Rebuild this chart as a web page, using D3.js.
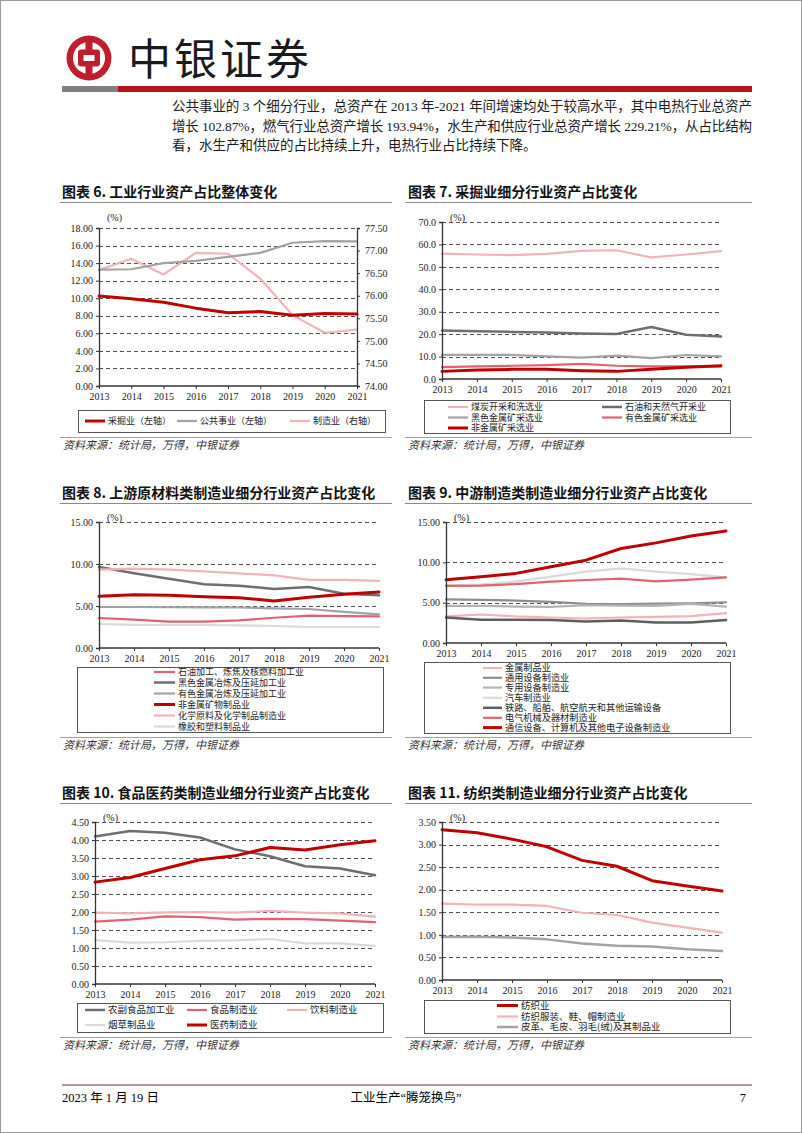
<!DOCTYPE html>
<html><head><meta charset="utf-8">
<script src="https://cdn.jsdelivr.net/npm/d3@7"></script>
<style>
body{margin:0;background:#fff;}
svg{display:block;}
</style></head>
<body>
<script>
// ===== DATA =====
const years = ["2013","2014","2015","2016","2017","2018","2019","2020","2021"];

// Chart 6
const c6_names = ["采掘业（左轴）","公共事业（左轴）","制造业（右轴）"];
const c6_mining = [10.25,9.95,9.55,8.87,8.35,8.48,8.07,8.25,8.2];
const c6_utility = [13.25,13.3,14.0,14.25,14.72,15.17,16.32,16.5,16.48];
const c6_manuf = [76.57,76.82,76.47,76.95,76.93,76.38,75.57,75.18,75.25];
const c6_yTicks = [0,2,4,6,8,10,12,14,16,18];
const c6_y2Ticks = [74,74.5,75,75.5,76,76.5,77,77.5];

// Chart 7
const c7_names = ["煤炭开采和洗选业","石油和天然气开采业","黑色金属矿采选业","有色金属矿采选业","非金属矿采选业"];
const c7_coal = [55.9,55.5,55.2,55.8,57.1,57.4,54.2,55.5,57.0];
const c7_oil = [21.6,21.3,21.0,20.7,20.3,20.1,23.2,19.7,18.9];
const c7_ferrous = [10.8,10.8,10.8,10.1,9.5,10.4,9.3,10.7,10.1];
const c7_nonferrous = [5.3,5.6,5.9,6.2,6.7,5.9,5.6,5.6,5.6];
const c7_nonmetal = [3.4,4.0,4.3,4.3,3.7,3.4,4.3,5.2,5.9];
const c7_yTicks = [0,10,20,30,40,50,60,70];

// Chart 8
const c8_names = ["石油加工、炼焦及核燃料加工业","黑色金属冶炼及压延加工业","有色金属冶炼及压延加工业","非金属矿物制品业","化学原料及化学制品制造业","橡胶和塑料制品业"];
const c8_petro = [3.57,3.37,3.15,3.13,3.29,3.6,3.85,3.8,3.77];
const c8_ferrous = [9.64,8.9,8.25,7.58,7.42,7.02,7.26,6.47,6.27];
const c8_nonferrous = [4.88,4.88,4.85,4.84,4.82,4.72,4.64,4.29,4.0];
const c8_nonmetal = [6.15,6.35,6.27,6.11,5.99,5.6,6.03,6.39,6.67];
const c8_chem = [9.33,9.44,9.33,9.13,8.89,8.65,8.1,8.1,7.98];
const c8_rubber = [2.86,2.76,2.74,2.74,2.7,2.62,2.5,2.5,2.5];
const c8_yTicks = [0,5,10,15];

// Chart 9
const c9_names = ["金属制品业","通用设备制造业","专用设备制造业","汽车制造业","铁路、船舶、航空航天和其他运输设备","电气机械及器材制造业","通信设备、计算机及其他电子设备制造业"];
const c9_metal = [3.29,3.53,3.29,3.16,3.04,3.16,3.25,3.33,3.7];
const c9_general = [5.42,5.34,5.26,5.1,4.85,4.81,4.89,4.93,5.05];
const c9_special = [4.6,4.6,4.52,4.48,4.68,4.64,4.6,4.85,4.52];
const c9_auto = [7.15,7.23,7.6,8.22,8.84,9.25,8.84,8.55,8.14];
const c9_transport = [3.16,2.88,2.88,2.84,2.67,2.79,2.55,2.55,2.84];
const c9_electric = [7.07,7.11,7.31,7.6,7.81,7.97,7.64,7.85,8.14];
const c9_telecom = [7.85,8.22,8.63,9.45,10.27,11.71,12.41,13.27,13.89];
const c9_yTicks = [0,5,10,15];

// Chart 10
const c10_names = ["农副食品加工业","食品制造业","饮料制造业","烟草制品业","医药制造业"];
const c10_agri = [4.1,4.25,4.2,4.07,3.74,3.55,3.27,3.21,3.02];
const c10_food = [1.73,1.79,1.88,1.86,1.79,1.81,1.8,1.76,1.72];
const c10_bev = [1.98,1.96,1.99,2.0,1.98,2.03,1.98,1.96,1.87];
const c10_tobacco = [1.22,1.15,1.16,1.2,1.21,1.25,1.13,1.13,1.06];
const c10_pharma = [2.83,2.96,3.21,3.45,3.56,3.79,3.72,3.87,3.98];
const c10_yTicks = [0,0.5,1,1.5,2,2.5,3,3.5,4,4.5];

// Chart 11
const c11_names = ["纺织业","纺织服装、鞋、帽制造业","皮革、毛皮、羽毛(绒)及其制品业"];
const c11_textile = [3.33,3.26,3.12,2.95,2.65,2.52,2.2,2.08,1.97];
const c11_apparel = [1.69,1.67,1.67,1.64,1.49,1.44,1.27,1.16,1.05];
const c11_leather = [0.95,0.96,0.94,0.9,0.81,0.76,0.74,0.68,0.64];
const c11_yTicks = [0,0.5,1,1.5,2,2.5,3,3.5];

// ===== STYLE =====
const RED = "#C00000", DGRAY = "#6E6E6E", MGRAY = "#A3A3A3", LGRAY = "#D9D9D9", LPINK = "#F4B2B8", RPINK = "#E06470";
const CJK = "'Noto Sans CJK SC', sans-serif";
const SERIF = "'Liberation Serif', 'Noto Sans CJK SC', serif";

const svg = d3.select("body").append("svg").attr("width",802).attr("height",1133);
svg.append("rect").attr("x",0.5).attr("y",0.5).attr("width",801).attr("height",1132).attr("fill","#fff").attr("stroke","#9a9a9a");

// ===== HEADER =====
const logo = svg.append("g").attr("transform","translate(89,58)");
logo.append("circle").attr("r",22.5).attr("fill","#BE1E2D");
logo.append("circle").attr("r",16).attr("fill","#fff");
logo.append("rect").attr("x",-3.5).attr("y",-20).attr("width",7).attr("height",40).attr("fill","#BE1E2D");
logo.append("rect").attr("x",-11).attr("y",-8.5).attr("width",22).attr("height",17).attr("rx",3).attr("fill","#BE1E2D");
logo.append("rect").attr("x",-5.5).attr("y",-3).attr("width",11).attr("height",6).attr("fill","#fff");
svg.append("text").attr("x",128).attr("y",75).text("中银证券")
  .style("font-family",CJK).style("font-size","43px").style("letter-spacing","3px").attr("fill","#1a1a1a");
svg.append("rect").attr("x",62).attr("y",86).attr("width",56).attr("height",6).attr("fill","#808080");
svg.append("rect").attr("x",118).attr("y",86).attr("width",634).attr("height",6).attr("fill","#B5121B");

const bodyLines = [
  {t:"公共事业的 3 个细分行业，总资产在 2013 年-2021 年间增速均处于较高水平，其中电热行业总资产", just:true},
  {t:"增长 102.87%，燃气行业总资产增长 193.94%，水生产和供应行业总资产增长 229.21%，从占比结构", just:true},
  {t:"看，水生产和供应的占比持续上升，电热行业占比持续下降。", just:false}
];
bodyLines.forEach((l,i)=>{
  const t = svg.append("text").attr("x",172).attr("y",111+i*19.5).text(l.t)
    .style("font-family",SERIF).style("font-size","13.5px").attr("fill","#1a1a1a");
  if(l.just) t.attr("textLength",580).attr("lengthAdjust","spacing");
});

// ===== FOOTER =====
svg.append("line").attr("x1",62).attr("x2",752).attr("y1",1085).attr("y2",1085).attr("stroke","#8B1A3A").attr("stroke-width",1.2);
svg.append("text").attr("x",62).attr("y",1102).text("2023 年 1 月 19 日").style("font-family",SERIF).style("font-size","12.5px");
svg.append("text").attr("x",406).attr("y",1102).attr("text-anchor","middle").text("工业生产“腾笼换鸟”").style("font-family",SERIF).style("font-size","12.5px");
svg.append("text").attr("x",746).attr("y",1102).attr("text-anchor","end").text("7").style("font-family",SERIF).style("font-size","12.5px");

// ===== CHART FUNCTION =====
function drawChart(cfg){
  const g = svg.append("g");
  g.append("text").attr("x",cfg.titleX).attr("y",cfg.titleY).text(cfg.title)
    .style("font-family",CJK).style("font-size","14px").style("font-weight","700").attr("fill","#111");
  g.append("line").attr("x1",cfg.colX0).attr("x2",cfg.colX1).attr("y1",cfg.titleY+5.5).attr("y2",cfg.titleY+5.5)
    .attr("stroke","#8a8a8a").attr("stroke-width",1);

  const x = d3.scalePoint().domain(years).range([cfg.left,cfg.right]);
  const y = d3.scaleLinear().domain([cfg.yTicks[0],cfg.yTicks[cfg.yTicks.length-1]]).range([cfg.bottom,cfg.top]);

  // grid
  g.selectAll(".grid").data(cfg.yTicks.filter(d=>d!==cfg.yTicks[0])).enter().append("line")
    .attr("x1",cfg.left).attr("x2",cfg.right)
    .attr("y1",d=>Math.round(y(d))+0.5).attr("y2",d=>Math.round(y(d))+0.5)
    .attr("stroke","#505050").attr("stroke-width",1).attr("stroke-dasharray","4,3");

  // series
  let y2 = null;
  if(cfg.y2Ticks){
    y2 = d3.scaleLinear().domain([cfg.y2Ticks[0],cfg.y2Ticks[cfg.y2Ticks.length-1]]).range([cfg.bottom,cfg.top]);
  }
  const order = cfg.drawOrder || cfg.series.map((s,i)=>i);
  order.forEach(i=>{
    const s = cfg.series[i];
    const sc = s.right ? y2 : y;
    const line = d3.line().x((d,j)=>x(years[j])).y(d=>sc(d));
    g.append("path").datum(s.values).attr("d",line).attr("fill","none")
      .attr("stroke",s.color).attr("stroke-width",s.width).attr("stroke-linejoin","round").attr("stroke-linecap","round");
  });

  // axes
  const ya = g.append("g").attr("transform",`translate(${cfg.left},0)`)
    .call(d3.axisLeft(y).tickValues(cfg.yTicks).tickFormat(d3.format(cfg.fmt)).tickSize(3).tickPadding(3));
  const xa = g.append("g").attr("transform",`translate(0,${cfg.bottom})`)
    .call(d3.axisBottom(x).tickSize(3).tickPadding(4));
  [ya,xa].forEach(a=>{
    a.select(".domain").attr("stroke","#333").attr("stroke-width",1.3);
    a.selectAll(".tick line").attr("stroke","#333");
    a.selectAll("text").style("font-family",SERIF).style("font-size","10px").attr("fill","#222");
  });
  xa.select(".domain").attr("d",`M${cfg.left},0H${cfg.right}`);
  if(y2){
    const ra = g.append("g").attr("transform",`translate(${cfg.right},0)`)
      .call(d3.axisRight(y2).tickValues(cfg.y2Ticks).tickFormat(d3.format(".2f")).tickSize(3).tickPadding(5));
    ra.select(".domain").attr("stroke","#333").attr("stroke-width",1.3);
    ra.selectAll(".tick line").attr("stroke","#333");
    ra.selectAll("text").style("font-family",SERIF).style("font-size","10px").attr("fill","#222");
  }
  g.append("text").attr("x",cfg.left+8).attr("y",cfg.top-(cfg.pctDy||1)).text("(%)")
    .style("font-family",SERIF).style("font-size","10px").attr("fill","#222");

  // legend
  const lb = cfg.legendBox;
  g.append("rect").attr("x",lb[0]+0.5).attr("y",lb[1]+0.5).attr("width",lb[2]).attr("height",lb[3])
    .attr("fill","#fff").attr("stroke","#555").attr("stroke-width",1);
  cfg.series.forEach((s,i)=>{
    const p = cfg.legendPos[i];
    g.append("line").attr("x1",p[0]).attr("x2",p[0]+cfg.sampleW).attr("y1",p[1]).attr("y2",p[1])
      .attr("stroke",s.color).attr("stroke-width",s.width);
    g.append("text").attr("x",p[0]+cfg.sampleW+3).attr("y",p[1]+3.2).text(s.name)
      .style("font-family",CJK).style("font-size",(cfg.legendFont||9)+"px").attr("fill","#222");
  });

  // source
  g.append("line").attr("x1",cfg.colX0).attr("x2",cfg.colX1).attr("y1",cfg.srcLineY+0.5).attr("y2",cfg.srcLineY+0.5)
    .attr("stroke","#8a8a8a").attr("stroke-width",0.8);
  g.append("text").attr("x",cfg.colX0+3).attr("y",cfg.srcLineY+12).text("资料来源：统计局，万得，中银证券")
    .style("font-family",CJK).style("font-size","11px").style("font-style","italic").attr("fill","#333");
}

// ===== CHARTS =====
drawChart({
  title:"图表 6. 工业行业资产占比整体变化", titleX:62, titleY:197, colX0:60, colX1:392,
  left:99, right:357, top:228, bottom:386, yTicks:c6_yTicks, fmt:".2f", y2Ticks:c6_y2Ticks, pctDy:7,
  series:[
    {name:c6_names[0], values:c6_mining, color:RED, width:3},
    {name:c6_names[1], values:c6_utility, color:MGRAY, width:2.2},
    {name:c6_names[2], values:c6_manuf, color:LPINK, width:2.2, right:true}
  ],
  drawOrder:[2,1,0],
  legendBox:[78,410,307,22], legendPos:[[85,421],[177,421],[290,421]], sampleW:20, legendFont:9,
  srcLineY:437
});

drawChart({
  title:"图表 7. 采掘业细分行业资产占比变化", titleX:408, titleY:197, colX0:405, colX1:752,
  left:442, right:721, top:222, bottom:379, yTicks:c7_yTicks, fmt:".1f",
  series:[
    {name:c7_names[0], values:c7_coal, color:LPINK, width:2.2},
    {name:c7_names[1], values:c7_oil, color:DGRAY, width:2.5},
    {name:c7_names[2], values:c7_ferrous, color:MGRAY, width:2.2},
    {name:c7_names[3], values:c7_nonferrous, color:RPINK, width:2.2},
    {name:c7_names[4], values:c7_nonmetal, color:RED, width:3}
  ],
  legendBox:[424,400,306,33], legendPos:[[448,407],[602,407],[448,417.5],[602,417.5],[448,428]], sampleW:20,
  srcLineY:437
});

drawChart({
  title:"图表 8. 上游原材料类制造业细分行业资产占比变化", titleX:62, titleY:498, colX0:60, colX1:392,
  left:99, right:379, top:522, bottom:648, yTicks:c8_yTicks, fmt:".2f",
  series:[
    {name:c8_names[0], values:c8_petro, color:RPINK, width:2.2},
    {name:c8_names[1], values:c8_ferrous, color:DGRAY, width:2.5},
    {name:c8_names[2], values:c8_nonferrous, color:MGRAY, width:2.2},
    {name:c8_names[3], values:c8_nonmetal, color:RED, width:3},
    {name:c8_names[4], values:c8_chem, color:LPINK, width:2.2},
    {name:c8_names[5], values:c8_rubber, color:LGRAY, width:2.2}
  ],
  legendBox:[77,667,306,65], legendPos:[[154,672],[154,682.5],[154,693.5],[154,704.5],[154,715.5],[154,726.5]], sampleW:21,
  srcLineY:737
});

drawChart({
  title:"图表 9. 中游制造类制造业细分行业资产占比变化", titleX:408, titleY:498, colX0:405, colX1:752,
  left:446, right:726, top:522, bottom:643, yTicks:c9_yTicks, fmt:".2f",
  series:[
    {name:c9_names[0], values:c9_metal, color:LPINK, width:2.2},
    {name:c9_names[1], values:c9_general, color:"#8E8E8E", width:2.2},
    {name:c9_names[2], values:c9_special, color:"#B3B3B3", width:2.2},
    {name:c9_names[3], values:c9_auto, color:LGRAY, width:2.2},
    {name:c9_names[4], values:c9_transport, color:"#5E5E5E", width:2.5},
    {name:c9_names[5], values:c9_electric, color:RPINK, width:2.2},
    {name:c9_names[6], values:c9_telecom, color:RED, width:3}
  ],
  legendBox:[424,662,306,71], legendPos:[[483,668],[483,677.8],[483,687.6],[483,697.8],[483,707.8],[483,717.8],[483,727.6]], sampleW:19, legendFont:9.2,
  srcLineY:737
});

drawChart({
  title:"图表 10. 食品医药类制造业细分行业资产占比变化", titleX:62, titleY:798, colX0:60, colX1:392,
  left:95, right:375, top:822, bottom:984, yTicks:c10_yTicks, fmt:".2f",
  series:[
    {name:c10_names[0], values:c10_agri, color:DGRAY, width:2.5},
    {name:c10_names[1], values:c10_food, color:RPINK, width:2.2},
    {name:c10_names[2], values:c10_bev, color:LPINK, width:2.2},
    {name:c10_names[3], values:c10_tobacco, color:LGRAY, width:2.2},
    {name:c10_names[4], values:c10_pharma, color:RED, width:3}
  ],
  legendBox:[77,1003,306,29], legendPos:[[85,1010],[187,1010],[287,1010],[85,1025],[187,1025]], sampleW:20, legendFont:9.5,
  srcLineY:1037
});

drawChart({
  title:"图表 11. 纺织类制造业细分行业资产占比变化", titleX:408, titleY:798, colX0:405, colX1:752,
  left:442, right:722, top:822, bottom:980, yTicks:c11_yTicks, fmt:".2f",
  series:[
    {name:c11_names[0], values:c11_textile, color:RED, width:3},
    {name:c11_names[1], values:c11_apparel, color:LPINK, width:2.2},
    {name:c11_names[2], values:c11_leather, color:MGRAY, width:2.5}
  ],
  legendBox:[424,1000,306,33], legendPos:[[497,1005.5],[497,1016.5],[497,1027]], sampleW:21, legendFont:9.5,
  srcLineY:1037
});
</script>
</body></html>
